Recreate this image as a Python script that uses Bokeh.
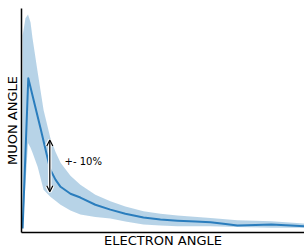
from bokeh.plotting import figure
from bokeh.models import Range1d, Arrow, OpenHead, Label, FixedTicker
from bokeh.embed import file_html
from bokeh.resources import INLINE

# Data (arbitrary units)
line_x = [0.04, 0.24, 0.67, 0.92, 1.02, 1.20, 1.38, 1.73, 2.08, 2.61, 3.14, 3.67,
          4.31, 4.91, 5.51, 6.15, 6.68, 7.21, 7.63, 8.27, 8.83, 9.51, 10.0]
line_y = [0.18, 6.89, 4.67, 3.33, 2.80, 2.36, 2.04, 1.73, 1.56, 1.24, 1.02, 0.84,
          0.67, 0.58, 0.53, 0.49, 0.46, 0.38, 0.31, 0.33, 0.36, 0.31, 0.28]

band_x = [0.04, 0.14, 0.23, 0.32, 0.39, 0.57, 0.78, 1.02, 1.20, 1.38, 1.73, 2.08,
          2.61, 3.14, 3.67, 4.31, 4.91, 5.51, 6.68, 7.63, 8.83, 10.0]
band_upper = [8.80, 9.56, 9.73, 9.38, 8.67, 7.16, 5.47, 4.22, 3.60, 3.11, 2.53, 2.13,
              1.69, 1.39, 1.16, 0.95, 0.84, 0.76, 0.65, 0.55, 0.50, 0.40]
band_lower = [0.13, 2.13, 4.00, 3.78, 3.56, 2.93, 1.91, 1.60, 1.42, 1.24, 0.98, 0.80,
              0.69, 0.62, 0.49, 0.36, 0.31, 0.28, 0.28, 0.24, 0.21, 0.21]

arrow_x = 1.0
arrow_top = 4.13
arrow_bottom = 1.82
note_x = 1.52
note_y = 3.16
note_text = "+- 10%"

x_label = "ELECTRON ANGLE"
y_label = "MUON ANGLE"

FONT = "DejaVu Sans"

p = figure(width=304, height=250, output_backend="svg", toolbar_location=None,
           x_range=Range1d(0, 10), y_range=Range1d(0, 10),
           min_border_top=8, min_border_right=0, min_border_left=21, min_border_bottom=17)
p.outline_line_color = None
p.grid.visible = False
p.background_fill_color = "white"

p.varea(x=band_x, y1=band_lower, y2=band_upper, fill_color="#1f77b4", fill_alpha=0.32)
p.line(line_x, line_y, line_color="#2a7dbd", line_width=2, line_join="round")

# double-headed arrow with white outline
p.add_layout(Arrow(x_start=arrow_x, y_start=arrow_bottom, x_end=arrow_x, y_end=arrow_top,
                   line_color="white", line_width=3.5,
                   start=OpenHead(size=6, line_color="white", line_width=3.5),
                   end=OpenHead(size=6, line_color="white", line_width=3.5)))
p.add_layout(Arrow(x_start=arrow_x, y_start=arrow_bottom, x_end=arrow_x, y_end=arrow_top,
                   line_color="black", line_width=1.2,
                   start=OpenHead(size=6, line_color="black", line_width=1.2),
                   end=OpenHead(size=6, line_color="black", line_width=1.2)))
p.add_layout(Label(x=note_x, y=note_y, text=note_text, text_font=FONT,
                   text_font_size="10px", text_baseline="middle", text_color="black"))

for ax in (p.xaxis[0], p.yaxis[0]):
    ax.ticker = FixedTicker(ticks=[])
    ax.major_tick_line_color = None
    ax.minor_tick_line_color = None
    ax.major_tick_out = 0
    ax.major_tick_in = 0
    ax.major_label_standoff = 0
    ax.axis_line_color = "black"
    ax.axis_line_width = 1.5
    ax.axis_label_text_font = FONT
    ax.axis_label_text_font_size = "13px"
    ax.axis_label_text_font_style = "normal"
    ax.axis_label_text_color = "black"

p.xaxis.axis_label_standoff = 0
p.yaxis.axis_label_standoff = 2
p.xaxis.axis_label = x_label
p.yaxis.axis_label = y_label

open("out.html", "w").write(file_html(p, INLINE))
